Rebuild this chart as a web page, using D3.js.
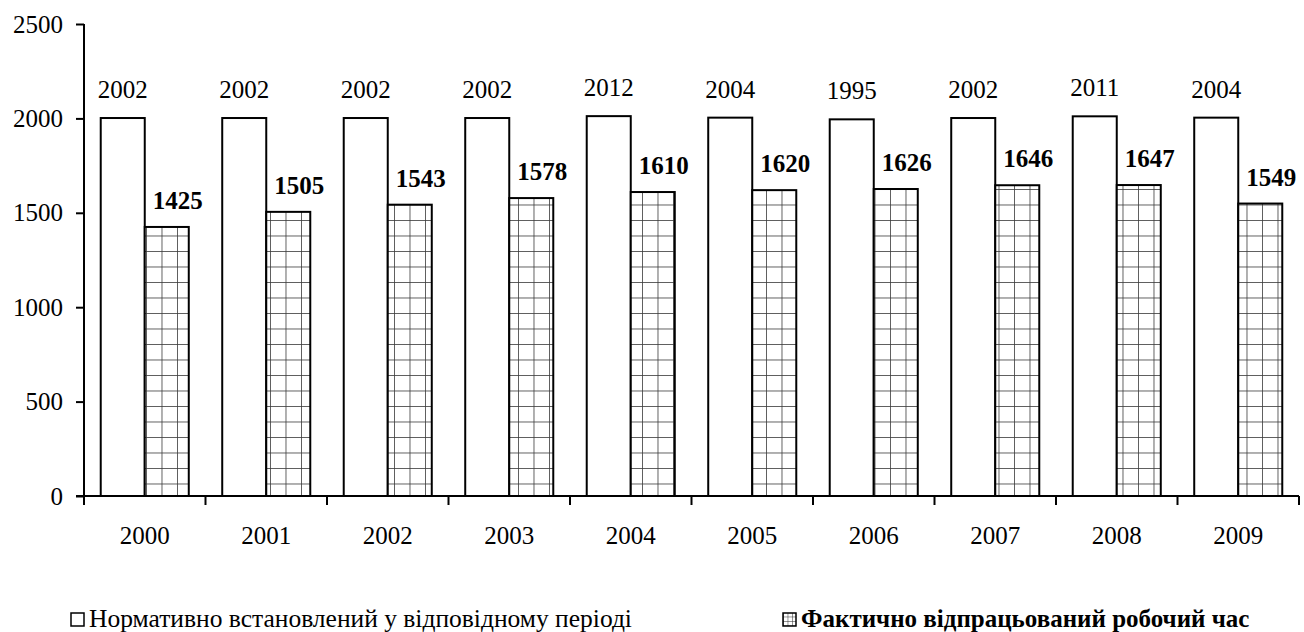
<!DOCTYPE html>
<html><head><meta charset="utf-8">
<script src="https://cdn.jsdelivr.net/npm/d3@7"></script>
<style>body{margin:0;background:#fff}svg{display:block}svg text{font-family:"Liberation Serif"}</style>
</head><body>
<svg id="c" width="1304" height="632"></svg>
<script>
const years = ["2000","2001","2002","2003","2004","2005","2006","2007","2008","2009"];
const normative = [2002,2002,2002,2002,2012,2004,1995,2002,2011,2004];
const actual = [1425,1505,1543,1578,1610,1620,1626,1646,1647,1549];
const yTicks = [0,500,1000,1500,2000,2500];
const legendLabels = ["Нормативно встановлений у відповідному періоді","Фактично відпрацьований робочий час"];

const svg = d3.select("#c");
const font = "Liberation Serif";
const defs = svg.append("defs");
const pat = defs.append("pattern").attr("id","grid").attr("patternUnits","userSpaceOnUse")
  .attr("width",15.5).attr("height",15.5).attr("x",6.5).attr("y",3);
pat.append("rect").attr("width",15.5).attr("height",15.5).attr("fill","#fff");
pat.append("line").attr("x1",0).attr("y1",0).attr("x2",0).attr("y2",15.5).attr("stroke","#3a3a3a").attr("stroke-width",1.6);
pat.append("line").attr("x1",0).attr("y1",0).attr("x2",15.5).attr("y2",0).attr("stroke","#3a3a3a").attr("stroke-width",1.6);

const pat2 = defs.append("pattern").attr("id","grid2").attr("patternUnits","userSpaceOnUse")
  .attr("width",4.5).attr("height",4.5).attr("x",0).attr("y",0);
pat2.append("rect").attr("width",4.5).attr("height",4.5).attr("fill","#fff");
pat2.append("line").attr("x1",0).attr("y1",0).attr("x2",0).attr("y2",4.5).attr("stroke","#333").attr("stroke-width",1);
pat2.append("line").attr("x1",0).attr("y1",0).attr("x2",4.5).attr("y2",0).attr("stroke","#333").attr("stroke-width",1);

const x = d3.scaleBand().domain(years).range([84,1299]).paddingInner(0).paddingOuter(0);
const xs = d3.scaleBand().domain([0,1]).range([0,x.bandwidth()]).paddingInner(0).paddingOuter(0.38);
const y = d3.scaleLinear().domain([0,2500]).range([496,24]);

// y axis
const ya = svg.append("g").attr("transform","translate(84,0)")
  .call(d3.axisLeft(y).tickValues(yTicks).tickSize(8).tickPadding(13).tickFormat(d3.format("d")));
ya.attr("font-family",null);
ya.select(".domain").attr("stroke","#000").attr("stroke-width",2).attr("d","M0,24V496");
ya.selectAll(".tick line").attr("stroke","#000").attr("stroke-width",2);
ya.selectAll("text").style("font-family",font).style("font-size","25px").attr("fill","#000");

// bars
const g = svg.append("g");
years.forEach((yr,i)=>{
  g.append("rect").attr("x",x(yr)+xs(0)).attr("y",y(normative[i]))
    .attr("width",xs.bandwidth()).attr("height",y(0)-y(normative[i]))
    .attr("fill","#fff").attr("stroke","#000").attr("stroke-width",2);
  g.append("rect").attr("x",x(yr)+xs(1)).attr("y",y(actual[i]))
    .attr("width",xs.bandwidth()).attr("height",y(0)-y(actual[i]))
    .attr("fill","url(#grid)").attr("stroke","#000").attr("stroke-width",2);
  g.append("text").attr("x",x(yr)+xs(0)+xs.bandwidth()/2).attr("y",y(normative[i])-20)
    .attr("text-anchor","middle").style("font-family",font).style("font-size","25px").text(normative[i]);
  g.append("text").attr("x",x(yr)+xs(1)+xs.bandwidth()/2+11).attr("y",y(actual[i])-18)
    .attr("text-anchor","middle").style("font-family",font).style("font-size","25px").style("font-weight","bold").text(actual[i]);
});

// x axis
const xa = svg.append("g").attr("transform","translate(0,496)")
  .call(d3.axisBottom(x).tickSize(0).tickPadding(30));
xa.attr("font-family",null);
xa.select(".domain").attr("stroke","#000").attr("stroke-width",2).attr("d","M76,0H1299");
xa.selectAll("text").style("font-family",font).style("font-size","25px").attr("fill","#000");
const bounds = years.map(d=>x(d)).concat([x(years[years.length-1])+x.bandwidth()]);
xa.selectAll(".bnd").data(bounds).enter().append("line").attr("class","bnd")
  .attr("x1",d=>d).attr("x2",d=>d).attr("y1",0).attr("y2",9).attr("stroke","#000").attr("stroke-width",2);

// legend
const lg = svg.append("g");
lg.append("rect").attr("x",71).attr("y",613).attr("width",13).attr("height",13).attr("fill","#fff").attr("stroke","#000").attr("stroke-width",1.5);
lg.append("text").attr("x",89).attr("y",627).style("font-family",font).style("font-size","25.5px").text(legendLabels[0]);
lg.append("rect").attr("x",783).attr("y",613).attr("width",13).attr("height",13).attr("fill","url(#grid2)").attr("stroke","#000").attr("stroke-width",1.5);
lg.append("text").attr("x",801).attr("y",627).style("font-family",font).style("font-size","25px").style("font-weight","bold").text(legendLabels[1]);
</script>
</body></html>
